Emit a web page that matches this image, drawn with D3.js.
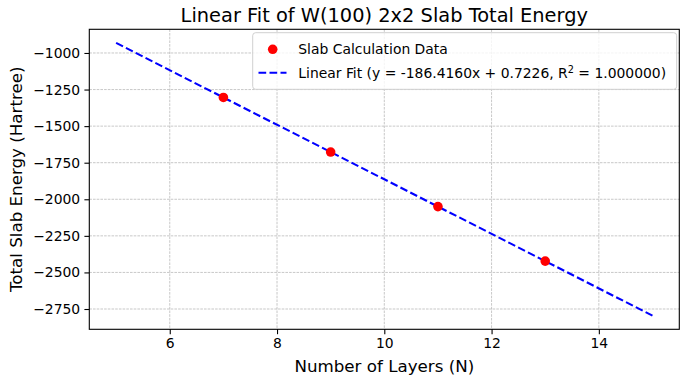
<!DOCTYPE html>
<html><head><meta charset="utf-8">
<script src="https://cdn.jsdelivr.net/npm/d3@7"></script>
<style>body{margin:0;background:#fff}svg{display:block}text{font-family:"DejaVu Sans",sans-serif}</style>
</head><body><svg id="c" width="685" height="387"></svg>
<script>
const layers = [7, 9, 11, 13];
const energies = [-1304.2, -1677.0, -2049.9, -2422.7];
const fitX = [5, 15];
const fitY = [-931.4, -2795.5];
const xTicks = [6, 8, 10, 12, 14];
const yTicks = [-1000, -1250, -1500, -1750, -2000, -2250, -2500, -2750];
const titleText = "Linear Fit of W(100) 2x2 Slab Total Energy";
const xLabel = "Number of Layers (N)";
const yLabel = "Total Slab Energy (Hartree)";

const L = 89.3, R = 679.3, T = 29.3, B = 329.3;
const svg = d3.select("#c");
const x = d3.scaleLinear().domain([4.5, 15.5]).range([L, R]);
const y = d3.scaleLinear().domain([-2888.7, -838.2]).range([B, T]);
const fmt = d => d3.format("d")(d).replace("-", "\u2212");

// grid
const g = svg.append("g");
g.selectAll("line.gx").data(xTicks).join("line")
  .attr("x1", d => x(d)).attr("x2", d => x(d)).attr("y1", T).attr("y2", B)
  .attr("stroke", "#b0b0b0").attr("stroke-width", 0.7).attr("stroke-dasharray", "2.6,1.1");
g.selectAll("line.gy").data(yTicks).join("line")
  .attr("y1", d => y(d)).attr("y2", d => y(d)).attr("x1", L).attr("x2", R)
  .attr("stroke", "#b0b0b0").attr("stroke-width", 0.7).attr("stroke-dasharray", "2.6,1.1");

// axes
const xAxis = d3.axisBottom(x).tickValues(xTicks).tickSize(4.9).tickPadding(4.2).tickFormat(d3.format("d"));
const yAxis = d3.axisLeft(y).tickValues(yTicks).tickSize(4.9).tickPadding(4.2).tickFormat(fmt);
const gx = svg.append("g").attr("transform", `translate(0,${B})`).call(xAxis);
const gy = svg.append("g").attr("transform", `translate(${L},0)`).call(yAxis);
[gx, gy].forEach(a => {
  a.select(".domain").remove();
  a.selectAll("text").attr("font-size", 13.9).attr("fill", "#000").style("font-family", "DejaVu Sans");
  a.selectAll("line").attr("stroke", "#000").attr("stroke-width", 1.1);
});

// fit line
const line = d3.line().x(d => x(d[0])).y(d => y(d[1]));
svg.append("path").datum(fitX.map((v, i) => [v, fitY[i]]))
  .attr("d", line).attr("fill", "none").attr("stroke", "#0000ff")
  .attr("stroke-width", 2.08).attr("stroke-dasharray", "7.7,3.3");

// points
svg.selectAll("circle.pt").data(layers).join("circle")
  .attr("cx", d => x(d)).attr("cy", (d, i) => y(energies[i])).attr("r", 4.8).attr("fill", "#ff0000");

// frame
svg.append("rect").attr("x", L).attr("y", T).attr("width", R - L).attr("height", B - T)
  .attr("fill", "none").attr("stroke", "#000").attr("stroke-width", 1.1);

// title and labels
svg.append("text").attr("x", (L + R) / 2).attr("y", 21.5).attr("text-anchor", "middle")
  .attr("font-size", 19.4).text(titleText);
svg.append("text").attr("x", (L + R) / 2).attr("y", 372).attr("text-anchor", "middle")
  .attr("font-size", 16.7).text(xLabel);
svg.append("text").attr("transform", `translate(22,${(T + B) / 2}) rotate(-90)`).attr("text-anchor", "middle")
  .attr("font-size", 16.7).text(yLabel);

// legend
const lg = svg.append("g");
lg.append("rect").attr("x", 252.7).attr("y", 32.7).attr("width", 424).attr("height", 56.6)
  .attr("rx", 3).attr("fill", "#fff").attr("fill-opacity", 0.8).attr("stroke", "#d0d0d0").attr("stroke-width", 1);
lg.append("circle").attr("cx", 272.7).attr("cy", 49.3).attr("r", 4.8).attr("fill", "#ff0000");
lg.append("line").attr("x1", 258.5).attr("x2", 286.5).attr("y1", 72.7).attr("y2", 72.7)
  .attr("stroke", "#0000ff").attr("stroke-width", 2.08).attr("stroke-dasharray", "7.7,3.3");
lg.append("text").attr("x", 298.3).attr("y", 54).attr("font-size", 13.9).text("Slab Calculation Data");
const t2 = lg.append("text").attr("x", 298.3).attr("y", 77.5).attr("font-size", 13.9);
t2.append("tspan").text("Linear Fit (y = -186.4160x + 0.7226, R");
t2.append("tspan").attr("font-size", 9.7).attr("dy", -5).text("2");
t2.append("tspan").attr("dy", 5).text(" = 1.000000)");
</script></body></html>
